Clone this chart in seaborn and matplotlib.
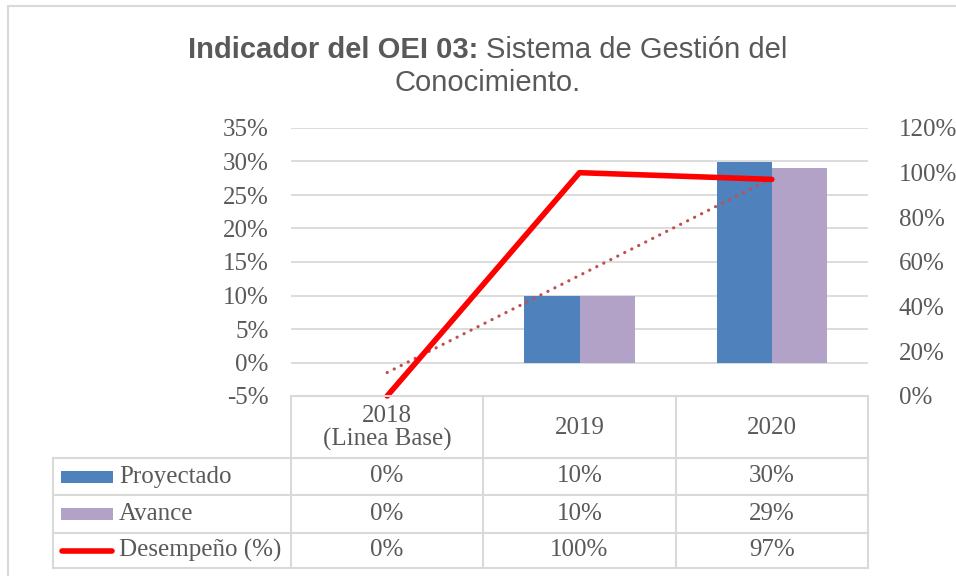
import numpy as np
import pandas as pd
import matplotlib
matplotlib.use("Agg")
import matplotlib.pyplot as plt
import seaborn as sns
from matplotlib.lines import Line2D
from matplotlib.patches import Rectangle
from matplotlib.transforms import Affine2D
from matplotlib.ticker import FuncFormatter, MultipleLocator

# ---- data ----
categories = ["2018\n(Linea Base)", "2019", "2020"]
proyectado = [0.00, 0.10, 0.30]
avance = [0.00, 0.10, 0.29]
desempeno = [0.00, 1.00, 0.97]
proyectado_lbl = ["0%", "10%", "30%"]
avance_lbl = ["0%", "10%", "29%"]
desempeno_lbl = ["0%", "100%", "97%"]
series_names = ["Proyectado", "Avance", "Desempeño (%)"]

C_PROY = "#4F81BD"
C_AVAN = "#B2A2C7"
C_RED = "#FF0000"
C_TREND = "#C0504D"
C_TXT = "#595959"
C_GRID = "#D9D9D9"
SERIF = ["Liberation Serif", "DejaVu Serif"]
SANS = ["Liberation Sans", "DejaVu Sans"]

sns.set_theme(style="white")
plt.rcParams["font.family"] = SERIF

W, H = 956, 576
fig = plt.figure(figsize=(W / 100, H / 100), dpi=100)
pix = Affine2D().scale(1 / W, -1 / H).translate(0, 1) + fig.transFigure

ax = fig.add_axes([291 / W, 1 - 396 / H, 577 / W, 268 / H])

df = pd.DataFrame({
    "cat": categories * 2,
    "val": proyectado + avance,
    "serie": ["Proyectado"] * 3 + ["Avance"] * 3,
})
sns.barplot(data=df, x="cat", y="val", hue="serie", order=categories,
            hue_order=["Proyectado", "Avance"],
            palette=[C_PROY, C_AVAN], saturation=1, width=0.572, gap=0,
            ax=ax, legend=False, linewidth=0)

idx = np.arange(len(categories))
# linear trendline of Avance (Excel style)
sns.regplot(x=idx, y=np.array(avance), scatter=False, ci=None, ax=ax,
            truncate=True,
            line_kws=dict(color=C_TREND, lw=2.3, linestyle=(0, (0.05, 2.4)),
                          dash_capstyle="round", zorder=5))

ax.set_xlim(-0.5, 2.5)
ax.set_ylim(-0.05, 0.35)
ax.yaxis.set_major_locator(MultipleLocator(0.05))
ax.yaxis.set_major_formatter(FuncFormatter(lambda v, p: f"{round(v * 100):d}%"))
ax.grid(axis="y", color=C_GRID, lw=1.3)
ax.set_axisbelow(True)
ax.set_xticks([])
ax.set_xlabel("")
ax.set_ylabel("")
for s in ax.spines.values():
    s.set_visible(False)
ax.tick_params(axis="y", length=0, pad=16, labelsize=18, labelcolor=C_TXT)

ax2 = ax.twinx()
sns.lineplot(x=idx, y=desempeno, ax=ax2, color=C_RED, lw=4,
             solid_capstyle="round", zorder=6)
for ln in ax2.get_lines():
    ln.set_clip_on(False)
ax2.set_ylim(0, 1.2)
ax2.yaxis.set_major_locator(MultipleLocator(0.2))
ax2.yaxis.set_major_formatter(FuncFormatter(lambda v, p: f"{round(v * 100):d}%"))
ax2.set_ylabel("")
ax2.grid(False)
for s in ax2.spines.values():
    s.set_visible(False)
ax2.tick_params(axis="y", length=0, pad=22, labelsize=18, labelcolor=C_TXT)
ax2.set_xlim(-0.5, 2.5)

for lab in ax.get_yticklabels() + ax2.get_yticklabels():
    lab.set_fontfamily(SERIF)

# ---- outer border ----
fig.add_artist(Line2D([8, 8], [6, 600], transform=pix, color=C_GRID, lw=1.5))
fig.add_artist(Line2D([8, 1000], [6, 6], transform=pix, color=C_GRID, lw=1.5))

# ---- data table ----
bx = [ax.transData.transform((d, 0))[0] for d in (-0.5, 0.5, 1.5, 2.5)]
lx = 53
rows_y = [396, 458, 495, 533, 568]

def hline(x0, x1, y):
    fig.add_artist(Line2D([x0, x1], [y, y], transform=pix, color=C_GRID, lw=1.5))

def vline(x, y0, y1):
    fig.add_artist(Line2D([x, x], [y0, y1], transform=pix, color=C_GRID, lw=1.5))

hline(bx[0], bx[3], rows_y[0])
for y in rows_y[1:]:
    hline(lx, bx[3], y)
vline(lx, rows_y[1], rows_y[4])
for x in bx:
    vline(x, rows_y[0], rows_y[4])

centers = [(bx[i] + bx[i + 1]) / 2 for i in range(3)]
hy = (rows_y[0] + rows_y[1]) / 2
for i, c in enumerate(categories):
    fig.text(centers[i], hy + 1, c, transform=pix, ha="center", va="center",
             fontsize=18, color=C_TXT, family=SERIF, linespacing=1.0)

row_vals = [proyectado_lbl, avance_lbl, desempeno_lbl]
for r in range(3):
    yc = (rows_y[r + 1] + rows_y[r + 2]) / 2
    for i in range(3):
        fig.text(centers[i], yc, row_vals[r][i], transform=pix, ha="center",
                 va="center", fontsize=18, color=C_TXT, family=SERIF)
    fig.text(119, yc, series_names[r], transform=pix, ha="left", va="center",
             fontsize=18, color=C_TXT, family=SERIF)

# legend keys
y1 = (rows_y[1] + rows_y[2]) / 2
y2 = (rows_y[2] + rows_y[3]) / 2
y3 = (rows_y[3] + rows_y[4]) / 2
fig.add_artist(Rectangle((61, y1 - 6), 52, 12, transform=pix, color=C_PROY, lw=0))
fig.add_artist(Rectangle((61, y2 - 6), 52, 12, transform=pix, color=C_AVAN, lw=0))
fig.add_artist(Line2D([62, 112], [y3, y3], transform=pix, color=C_RED, lw=4,
                      solid_capstyle="round"))

# ---- title (bold + regular) ----
renderer = fig.canvas.get_renderer()
t_bold = fig.text(0, 0, "Indicador del OEI 03:", transform=pix, fontsize=21,
                  fontweight="bold", color=C_TXT, family=SANS, ha="left",
                  va="center_baseline")
t_reg = fig.text(0, 0, "Sistema de Gestión del", transform=pix, fontsize=21,
                 color=C_TXT, family=SANS, ha="left", va="center_baseline")
wb = t_bold.get_window_extent(renderer).width
wr = t_reg.get_window_extent(renderer).width
gap = 8
x0 = 488 - (wb + gap + wr) / 2
t_bold.set_position((x0, 47))
t_reg.set_position((x0 + wb + gap, 47))
fig.text(488, 80, "Conocimiento.", transform=pix, fontsize=21, color=C_TXT,
         family=SANS, ha="center", va="center_baseline")

fig.savefig("out.png", dpi=100)
